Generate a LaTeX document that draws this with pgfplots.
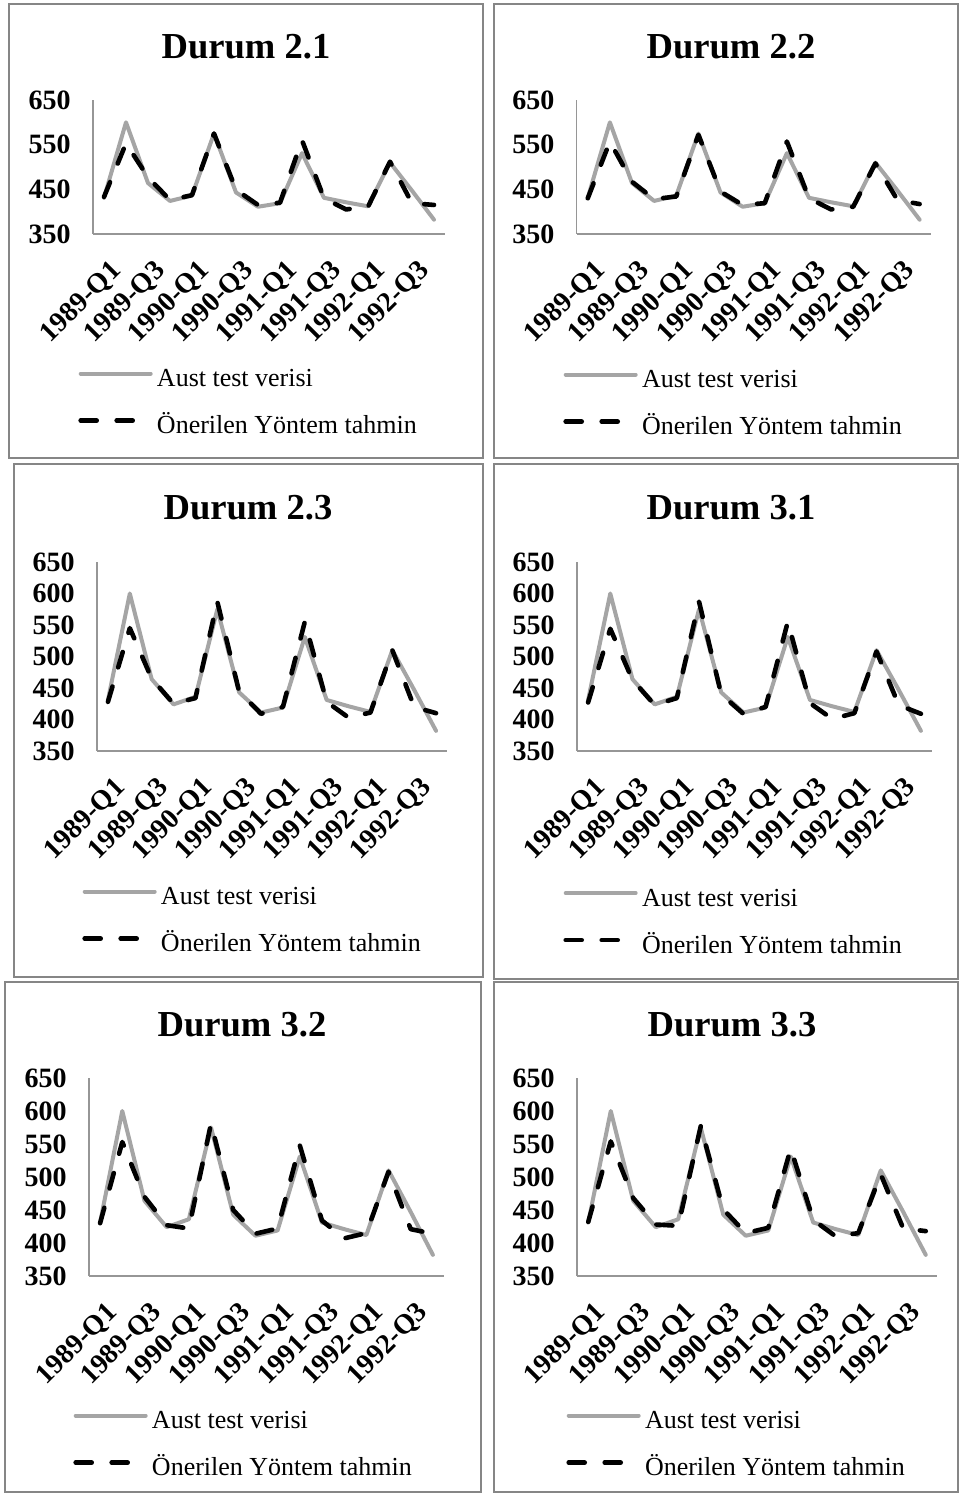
\documentclass[border=0pt]{standalone}
\usepackage{pgfplots}
\usepackage{pgfplotstable}
\pgfplotsset{compat=1.18}
\usepackage{fontspec}
\setmainfont{Liberation Serif}
\definecolor{lgray}{RGB}{165,165,165}
\definecolor{axgray}{RGB}{150,150,150}
\definecolor{bordergray}{RGB}{134,134,134}

\pgfplotstableread{
x gray d21 d22 d23 d31 d32 d33
0  431 433 430 428 427 430 432
1  600 553 557 545 544 553 554
2  464 477 467 465 463 470 468
3  424 426 428 425 423 427 428
4  436 437 434 434 434 422 426
5  575 575 572 587 587 581 577
6  443 449 445 444 440 450 451
7  411 415 415 409 409 414 415
8  419 420 419 420 420 422 423
9  531 560 557 555 555 548 543
10 431 430 430 428 426 434 435
11 421 405 405 403 401 407 410
12 412 411 411 411 410 415 415
13 510 512 508 510 508 508 504
14 447 419 426 420 423 421 422
15 382 415 417 410 409 414 418
}\data

\pgfplotsset{
  panel/.style={
    scale only axis,
    xmin=-0.5, xmax=15.5, ymin=350, ymax=650,
    axis lines*=left,
    axis line style={draw=axgray, line width=0.75pt, -},
    major tick length=0pt,
    xtick={0,2,...,14},
    xticklabels={1989-Q1,1989-Q3,1990-Q1,1990-Q3,1991-Q1,1991-Q3,1992-Q1,1992-Q3},
    xticklabel style={font=\fontsize{14}{16}\selectfont\bfseries, xshift=2.5pt, yshift=-12pt, rotate=45, anchor=north east, inner sep=0pt},
    /pgf/number format/assume math mode=true,
    yticklabel style={font=\fontsize{14}{16}\selectfont\bfseries, anchor=east, inner sep=0pt, xshift=-11pt},
    title style={font=\fontsize{18.3}{21}\selectfont\bfseries, at={(axis description cs:0.5,1)}, anchor=center},
    legend cell align=left,
    legend image code/.code={\draw[##1] (0pt,3.4pt) -- (35pt,3.4pt);},
    legend style={at={(axis description cs:0,0)}, anchor=north west, draw=none, fill=none, inner sep=0pt,
      row sep=12pt, font=\fontsize{13}{15}\selectfont,
      nodes={inner sep=0pt, text height=9pt, text depth=2.5pt},
      /tikz/every odd column/.style={column sep=2pt}},
  },
  gline/.style={draw=lgray, line width=2pt, line cap=round, line join=round, mark=none},
  dline/.style={draw=black, line width=2.3pt, line cap=round, line join=round, dash pattern=on 8pt off 10pt, mark=none},
}

\begin{document}
\begin{tikzpicture}
\useasboundingbox (0,0) rectangle (480pt,748pt);
% panel borders
\begin{scope}[draw=bordergray, line width=1pt]
\draw (4.3pt,518.85pt) rectangle (241.25pt,746pt);
\draw (246.75pt,518.85pt) rectangle (479pt,746pt);
\draw (6.75pt,259.65pt) rectangle (241.25pt,515.85pt);
\draw (246.75pt,258.5pt) rectangle (479pt,515.85pt);
\draw (2.45pt,2pt) rectangle (240.35pt,257.15pt);
\draw (246.75pt,2pt) rectangle (479pt,257.15pt);
\end{scope}

% Durum 2.1
\begin{axis}[panel, at={(46.5pt,631pt)}, anchor=south west, width=176pt, height=67pt,
  ytick={350,450,550,650},
  title={Durum 2.1}, title style={xshift=-11.5pt, yshift=20.5pt},
  legend style={xshift=-7.5pt, yshift=-67.25pt}]
\addplot[gline] table[x=x,y=gray]{\data};
\addplot[dline] table[x=x,y=d21]{\data};
\legend{Aust test verisi, Önerilen Yöntem tahmin}
\end{axis}

% Durum 2.2
\begin{axis}[panel, at={(288.35pt,631pt)}, anchor=south west, width=177pt, height=67pt,
  ytick={350,450,550,650},
  title={Durum 2.2}, title style={xshift=-11.35pt, yshift=20.5pt},
  legend style={xshift=-6.85pt, yshift=-67.75pt}]
\addplot[gline] table[x=x,y=gray]{\data};
\addplot[dline] table[x=x,y=d22]{\data};
\legend{Aust test verisi, Önerilen Yöntem tahmin}
\end{axis}

% Durum 2.3
\begin{axis}[panel, at={(48.5pt,372.5pt)}, anchor=south west, width=175pt, height=94.5pt,
  ytick={350,400,...,650},
  title={Durum 2.3}, title style={xshift=-12pt, yshift=21pt},
  legend style={xshift=-7.5pt, yshift=-67.75pt}]
\addplot[gline] table[x=x,y=gray]{\data};
\addplot[dline] table[x=x,y=d23]{\data};
\legend{Aust test verisi, Önerilen Yöntem tahmin}
\end{axis}

% Durum 3.1
\begin{axis}[panel, at={(288.5pt,372.5pt)}, anchor=south west, width=177.5pt, height=94.5pt,
  ytick={350,400,...,650},
  title={Durum 3.1}, title style={xshift=-11.75pt, yshift=21pt},
  legend style={xshift=-7pt, yshift=-68.5pt}]
\addplot[gline] table[x=x,y=gray]{\data};
\addplot[dline] table[x=x,y=d31]{\data};
\legend{Aust test verisi, Önerilen Yöntem tahmin}
\end{axis}

% Durum 3.2
\begin{axis}[panel, at={(44.5pt,110pt)}, anchor=south west, width=177.5pt, height=99pt,
  ytick={350,400,...,650},
  title={Durum 3.2}, title style={xshift=-12.25pt, yshift=20.5pt},
  legend style={xshift=-8pt, yshift=-67.25pt}]
\addplot[gline] table[x=x,y=gray]{\data};
\addplot[dline] table[x=x,y=d32]{\data};
\legend{Aust test verisi, Önerilen Yöntem tahmin}
\end{axis}

% Durum 3.3
\begin{axis}[panel, at={(288.5pt,110pt)}, anchor=south west, width=180pt, height=99pt,
  ytick={350,400,...,650},
  title={Durum 3.3}, title style={xshift=-12.5pt, yshift=20.5pt},
  legend style={xshift=-5.5pt, yshift=-67.25pt}]
\addplot[gline] table[x=x,y=gray]{\data};
\addplot[dline] table[x=x,y=d33]{\data};
\legend{Aust test verisi, Önerilen Yöntem tahmin}
\end{axis}
\end{tikzpicture}
\end{document}
